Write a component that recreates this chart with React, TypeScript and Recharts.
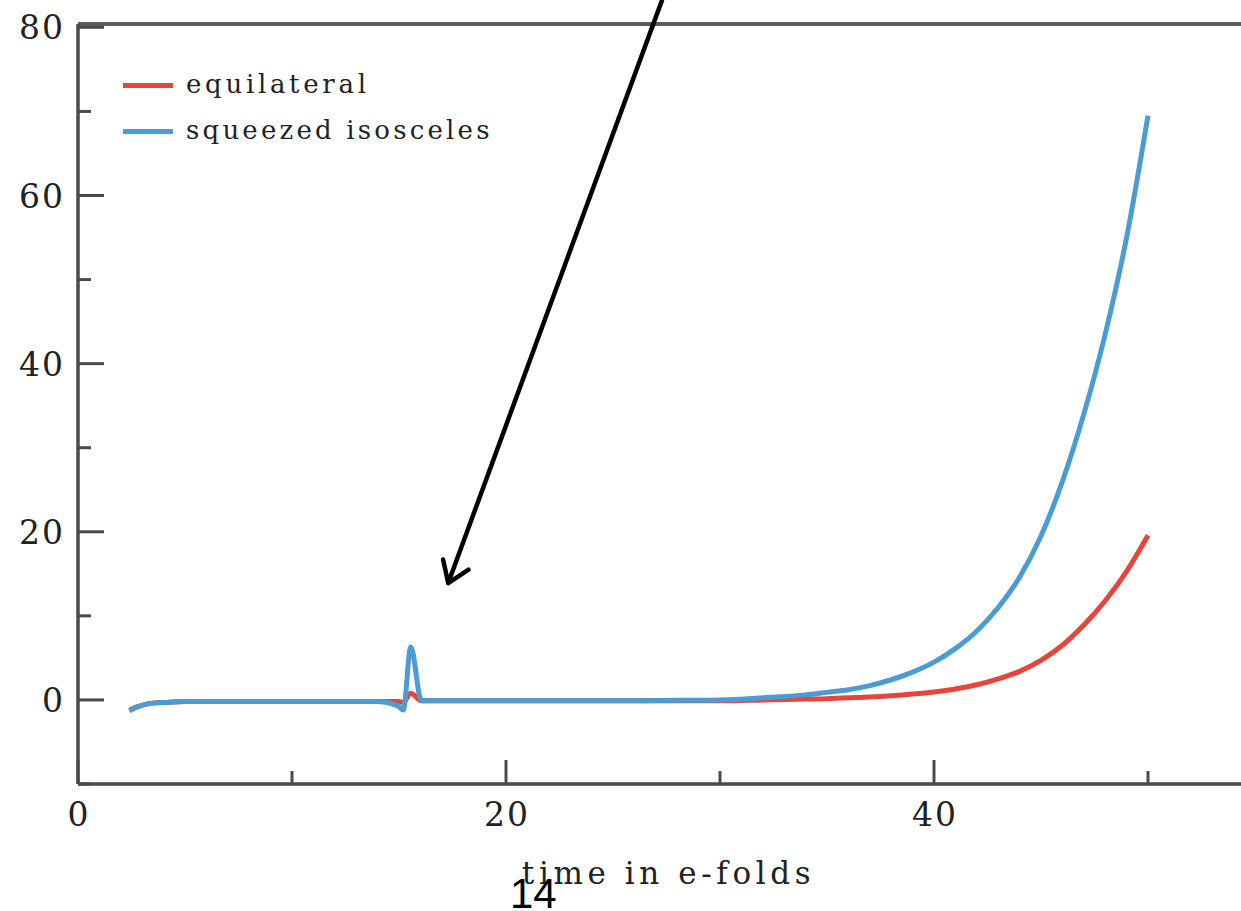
import React from "react";
import { LineChart, Line, XAxis, YAxis, ReferenceLine, Legend } from "recharts";

// time in e-folds
const xValues = [2.4, 2.8, 3.2, 3.6, 4, 5, 6, 8, 10, 12, 14, 14.6, 15.0, 15.2, 15.55, 16.05, 16.5, 18, 20, 22, 24, 26, 28, 30, 32, 34, 35, 36, 37, 38, 39, 40, 41, 42, 43, 44, 45, 46, 47, 48, 49, 50];
const equilateral = [-1.2, -0.8, -0.5, -0.35, -0.3, -0.2, -0.2, -0.2, -0.2, -0.2, -0.2, -0.2, -0.2, -0.3, 0.8, -0.1, -0.1, -0.1, -0.1, -0.1, -0.1, -0.1, -0.1, -0.1, 0.0, 0.1, 0.15, 0.25, 0.35, 0.5, 0.7, 0.95, 1.3, 1.8, 2.5, 3.4, 4.7, 6.5, 8.9, 11.8, 15.3, 19.6];
const squeezed = [-1.3, -0.8, -0.5, -0.35, -0.3, -0.2, -0.2, -0.2, -0.2, -0.2, -0.2, -0.4, -0.8, -1.2, 6.3, -0.1, -0.1, -0.1, -0.1, -0.1, -0.1, -0.1, -0.05, 0.0, 0.25, 0.6, 0.9, 1.2, 1.7, 2.4, 3.3, 4.5, 6.1, 8.2, 11.0, 14.6, 19.5, 26.0, 34.0, 43.5, 55.0, 69.5];

const xTicks = [0, 10, 20, 30, 40, 50];
const xLabeled = [0, 20, 40];
const yTicks = [-10, 0, 10, 20, 30, 40, 50, 60, 70, 80];
const yLabeled = [0, 20, 40, 60, 80];

const seriesNames = ["equilateral", "squeezed isosceles"];
const seriesColors = ["#e8443b", "#4a9cd2"];

// arrow annotation (data coordinates)
const arrowStart = { x: 27.3, y: 83.3 };
const arrowTip = { x: 17.3, y: 13.9 };
const arrowArmA = { x: 17.06, y: 16.7 };
const arrowArmB = { x: 18.25, y: 15.5 };

const data = xValues.map((x, i) => ({ x, eq: equilateral[i], sq: squeezed[i] }));

const SERIF = "'DejaVu Serif', 'Liberation Serif', serif";
const AXIS = "#4a4a4a";
const TEXT = "#222";

const XTick = (props: any) => {
  const { x, y, payload } = props;
  const major = xLabeled.includes(payload.value);
  return (
    <g>
      <line x1={x} x2={x} y1={y} y2={y - (major ? 24 : 13)} stroke={AXIS} strokeWidth={3} />
      {major && (
        <text x={x + 1} y={y + 42} textAnchor="middle" fontFamily={SERIF} fontSize={33} letterSpacing={2} fill={TEXT}>
          {payload.value}
        </text>
      )}
    </g>
  );
};

const YTick = (props: any) => {
  const { x, y, payload } = props;
  const major = yLabeled.includes(payload.value);
  return (
    <g>
      <line x1={x} x2={x + (major ? 26 : 13)} y1={y} y2={y} stroke={AXIS} strokeWidth={3} />
      {major && (
        <text x={x - 13} y={y + 12} textAnchor="end" fontFamily={SERIF} fontSize={33} letterSpacing={2} fill={TEXT}>
          {payload.value}
        </text>
      )}
    </g>
  );
};

const LegendContent = () => (
  <div style={{ fontFamily: SERIF, fontSize: 26, color: TEXT }}>
    {seriesNames.map((n, i) => (
      <div key={n} style={{ display: "flex", alignItems: "center", height: 46 }}>
        <div style={{ width: 50, height: 5, background: seriesColors[i], marginRight: 13, marginTop: 3 }} />
        <span style={{ lineHeight: "46px", letterSpacing: i === 0 ? 3.7 : 3.2, whiteSpace: "nowrap" }}>{n}</span>
      </div>
    ))}
  </div>
);

export default function App() {
  return (
    <div style={{ position: "absolute", left: 0, top: 0, width: 1241, height: 911, overflow: "hidden", background: "#fff" }}>
      <LineChart width={1255} height={911} data={data} margin={{ top: 24, right: 0, left: 0, bottom: 0 }}>
        <XAxis
          dataKey="x"
          type="number"
          domain={[0, 55]}
          ticks={xTicks}
          interval={0}
          allowDataOverflow
          height={127}
          tickSize={0}
          tickMargin={0}
          tickLine={false}
          axisLine={{ stroke: AXIS, strokeWidth: 3.5 }}
          tick={<XTick />}
          label={{
            content: (p: any) => {
              const vb = p.viewBox || {};
              return (
                <text x={vb.x + vb.width / 2 + 2} y={884} textAnchor="middle" fontFamily={SERIF} fontSize={31} letterSpacing={4.6} fill={TEXT}>
                  time in e-folds
                </text>
              );
            },
          }}
        />
        <YAxis
          type="number"
          domain={[-10, 80.4]}
          ticks={yTicks}
          interval={0}
          allowDataOverflow
          width={78}
          tickSize={0}
          tickMargin={0}
          tickLine={false}
          axisLine={{ stroke: AXIS, strokeWidth: 3.5 }}
          tick={<YTick />}
        />
        <ReferenceLine y={80.4} stroke="#5a5a5a" strokeWidth={4} ifOverflow="visible" />
        <Legend
          layout="vertical"
          align="center"
          verticalAlign="middle"
          content={<LegendContent />}
          wrapperStyle={{ position: "absolute", left: 123, top: 61, width: "auto", height: "auto" }}
        />
        <Line dataKey="eq" name={seriesNames[0]} type="monotone" stroke={seriesColors[0]} strokeWidth={5} dot={false} isAnimationActive={false} />
        <Line dataKey="sq" name={seriesNames[1]} type="monotone" stroke={seriesColors[1]} strokeWidth={5} dot={false} isAnimationActive={false} />
        <ReferenceLine segment={[arrowStart, arrowTip]} stroke="#000" strokeWidth={4.5} ifOverflow="visible" />
        <ReferenceLine segment={[arrowArmA, arrowTip]} stroke="#000" strokeWidth={4.5} strokeLinecap="round" ifOverflow="visible" />
        <ReferenceLine segment={[arrowArmB, arrowTip]} stroke="#000" strokeWidth={4.5} strokeLinecap="round" ifOverflow="visible" />
      </LineChart>
      <div style={{ position: "absolute", left: 510, top: 873, fontFamily: "'Liberation Sans', Arial, sans-serif", fontSize: 42, lineHeight: 1, color: "#000" }}>
        14
      </div>
    </div>
  );
}
